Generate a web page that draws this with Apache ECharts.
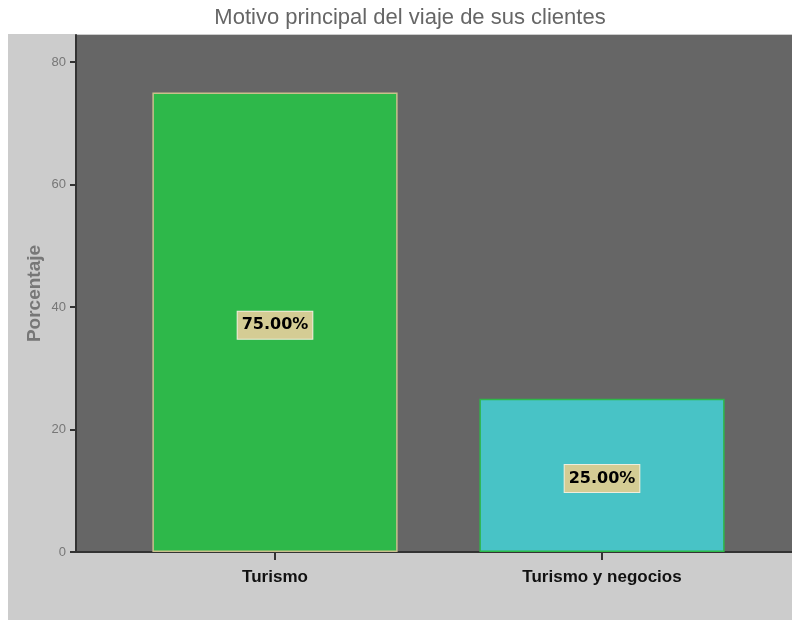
<!DOCTYPE html>
<html>
<head>
<meta charset="utf-8">
<script src="https://cdn.jsdelivr.net/npm/echarts@6/dist/echarts.min.js"></script>
<style>
  html, body { margin: 0; padding: 0; background: #fff; }
  #chart { width: 792px; height: 625px; }
</style>
</head>
<body>
<div id="chart"></div>
<script>
  const categories = ['Turismo', 'Turismo y negocios'];
  const percentages = [75, 25];
  const barColors = ['#2eb84a', '#48c3c6'];
  const barBorders = ['#c9c08c', '#2eb84a'];
  const yTicks = [0, 20, 40, 60, 80];

  const chart = echarts.init(document.getElementById('chart'));

  const yMax = 84.4;
  const option = {
    backgroundColor: '#fff',
    animation: false,
    title: {
      text: 'Motivo principal del viaje de sus clientes',
      left: 405,
      textAlign: 'center',
      top: 2,
      textStyle: { fontFamily: 'Liberation Sans', fontSize: 22, fontWeight: 'normal', color: '#666' }
    },
    graphic: [{
      type: 'rect',
      z: -10,
      shape: { x: 8, y: 34, width: 784, height: 586 },
      style: { fill: '#cccccc' }
    }],
    grid: [
      { left: 76, right: 0, top: 35, bottom: 73, show: true, backgroundColor: '#666666', borderWidth: 0 },
      { left: 111.5, width: 654, top: 35, bottom: 73 }
    ],
    xAxis: [
      {
        gridIndex: 0, type: 'value', min: 0, max: 1,
        axisLine: { show: true, lineStyle: { color: '#333', width: 2 } },
        axisTick: { show: false }, axisLabel: { show: false }, splitLine: { show: false }
      },
      {
        gridIndex: 1, type: 'category', data: categories,
        axisLine: { show: false },
        axisTick: { show: true, alignWithLabel: true, length: 8, lineStyle: { color: '#333', width: 2 } },
        axisLabel: { margin: 17, color: '#111', fontFamily: 'Liberation Sans', fontWeight: 'bold', fontSize: 17 }
      }
    ],
    yAxis: [
      {
        gridIndex: 0, type: 'value', min: 0, max: yMax,
        name: 'Porcentaje', nameLocation: 'middle', nameGap: 32, nameMoveOverlap: false,
        nameTextStyle: { color: '#777', fontFamily: 'Liberation Sans', fontWeight: 'bold', fontSize: 19 },
        axisLine: { show: true, lineStyle: { color: '#333', width: 2 } },
        axisTick: { show: true, length: 6, customValues: yTicks, lineStyle: { color: '#333', width: 2 } },
        axisLabel: {
          color: '#777', fontFamily: 'Liberation Sans', fontSize: 13, margin: 10,
          customValues: yTicks
        },
        splitLine: { show: false }
      },
      {
        gridIndex: 1, type: 'value', min: 0, max: yMax, show: false
      }
    ],
    series: [{
      type: 'bar',
      xAxisIndex: 1,
      yAxisIndex: 1,
      barWidth: '75%',
      data: percentages.map((v, i) => ({
        value: v,
        itemStyle: { color: barColors[i], borderColor: barBorders[i], borderWidth: 1.5 }
      })),
      label: {
        show: true,
        position: 'inside',
        offset: [0, 3],
        formatter: p => p.value.toFixed(2) + '%',
        color: '#000',
        fontFamily: 'DejaVu Sans',
        fontWeight: 'bold',
        fontSize: 16,
        backgroundColor: '#d4cc94',
        borderColor: '#eeeedd',
        borderWidth: 1,
        padding: [6, 4, 5, 4]
      }
    }]
  };
  chart.setOption(option);
</script>
</body>
</html>
